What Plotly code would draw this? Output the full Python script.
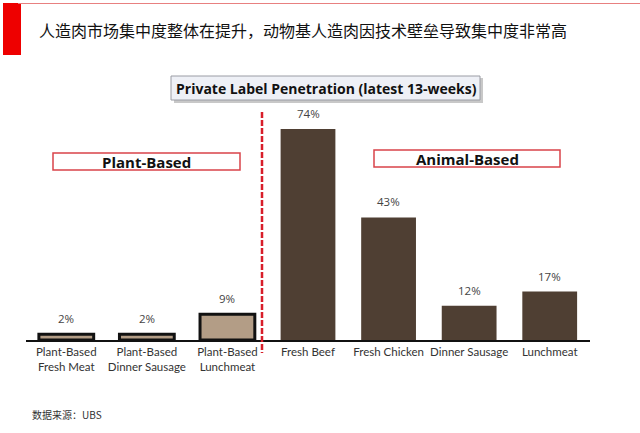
import plotly.graph_objects as go

categories = ["Plant-Based<br>Fresh Meat", "Plant-Based<br>Dinner Sausage", "Plant-Based<br>Lunchmeat",
              "Fresh Beef", "Fresh Chicken", "Dinner Sausage", "Lunchmeat"]
values = [2, 2, 9, 74, 43, 12, 17]
value_labels = ["2%", "2%", "9%", "74%", "43%", "12%", "17%"]
groups = ["plant", "plant", "plant", "animal", "animal", "animal", "animal"]

title_cn = "人造肉市场集中度整体在提升，动物基人造肉因技术壁垒导致集中度非常高"
chart_title = "Private Label Penetration (latest 13-weeks)"
source_text = "数据来源：UBS"

W, H = 640, 433
fill_colors = ["#b39d86" if g == "plant" else "#4f3f33" for g in groups]
line_widths = [3 if g == "plant" else 0 for g in groups]
TICKFONT = "Lato, Open Sans, sans-serif"

fig = go.Figure()
fig.add_trace(go.Bar(
    x=categories, y=values,
    marker=dict(color=fill_colors, line=dict(color="#111111", width=line_widths)),
    hoverinfo="skip",
))

def px_x(x):
    return x / W

def px_y(y):
    return 1 - y / H

fig.update_layout(
    width=W, height=H,
    margin=dict(l=0, r=0, t=0, b=0),
    paper_bgcolor="white", plot_bgcolor="white",
    showlegend=False,
    bargap=0.32,
    font=dict(family="Open Sans, Noto Sans, sans-serif"),
    xaxis=dict(
        domain=[px_x(26), px_x(590)],
        showgrid=False, zeroline=False,
        showline=True, linecolor="#111111", linewidth=1.5,
        ticks="", tickfont=dict(family=TICKFONT, size=11.5, color="#333333"),
        fixedrange=True,
    ),
    yaxis=dict(
        domain=[px_y(340), px_y(112)],
        range=[0, 80], visible=False, fixedrange=True,
    ),
)

shapes = [
    dict(type="rect", xref="paper", yref="paper", x0=px_x(3), x1=px_x(21), y0=px_y(55), y1=px_y(3),
         fillcolor="#ee0000", line=dict(width=0)),
    dict(type="line", xref="paper", yref="paper", x0=px_x(18), x1=1, y0=px_y(3.5), y1=px_y(3.5),
         line=dict(color="#e88080", width=1.2)),
    dict(type="line", xref="paper", yref="paper", x0=px_x(262), x1=px_x(262), y0=px_y(112), y1=px_y(353),
         line=dict(color="#d81e2a", width=2.5, dash="6px,2px")),
    dict(type="rect", xref="paper", yref="paper", x0=px_x(174), x1=px_x(483), y0=px_y(103), y1=px_y(78),
         fillcolor="#c8c8c8", line=dict(width=0)),
    dict(type="rect", xref="paper", yref="paper", x0=px_x(171), x1=px_x(480), y0=px_y(100), y1=px_y(76),
         fillcolor="#eef0f6", line=dict(color="#9a9ca4", width=1)),
    dict(type="rect", xref="paper", yref="paper", x0=px_x(53), x1=px_x(240), y0=px_y(170), y1=px_y(153),
         fillcolor="white", line=dict(color="#d9434a", width=1.5)),
    dict(type="rect", xref="paper", yref="paper", x0=px_x(374), x1=px_x(560), y0=px_y(167), y1=px_y(150),
         fillcolor="white", line=dict(color="#d9434a", width=1.5)),
]
fig.update_layout(shapes=shapes)

annotations = [
    dict(text=title_cn, x=px_x(37), y=px_y(30), xanchor="left", yanchor="middle",
         font=dict(family="Noto Sans CJK SC", size=16, color="#111111")),
    dict(text="<b>" + chart_title + "</b>", x=px_x(326), y=px_y(88), xanchor="center", yanchor="middle",
         font=dict(size=14, color="#111111")),
    dict(text="<b>Plant-Based</b>", x=px_x(146), y=px_y(161.5), xanchor="center", yanchor="middle",
         font=dict(size=15, color="#111111")),
    dict(text="<b>Animal-Based</b>", x=px_x(467), y=px_y(158.5), xanchor="center", yanchor="middle",
         font=dict(size=15, color="#111111")),
    dict(text=source_text, x=px_x(30), y=px_y(414), xanchor="left", yanchor="middle",
         font=dict(family="Noto Sans CJK SC", size=10, color="#333333")),
]
for a in annotations:
    a.update(xref="paper", yref="paper", showarrow=False)
for c, v, t in zip(categories, values, value_labels):
    annotations.append(dict(text=t, x=c, y=v, xref="x", yref="y", showarrow=False,
                            yanchor="bottom", yshift=6,
                            font=dict(family="Open Sans, sans-serif", size=11.5, color="#444444")))
fig.update_layout(annotations=annotations)

fig.write_html("out.html")
